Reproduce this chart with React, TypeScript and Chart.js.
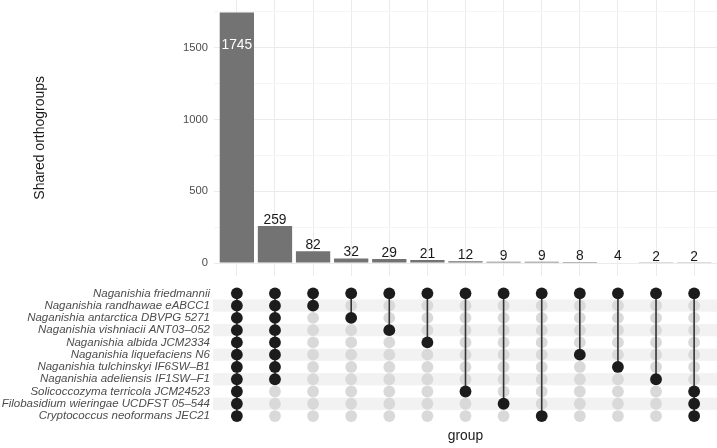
import React, { useEffect, useRef } from "react";
import { Chart, registerables } from "chart.js";

Chart.register(...registerables);

const FONT = "'Liberation Sans', Arial, Helvetica, sans-serif";

// Genomes (matrix rows, top to bottom)
const species = [
  "Naganishia friedmannii",
  "Naganishia randhawae eABCC1",
  "Naganishia antarctica DBVPG 5271",
  "Naganishia vishniacii ANT03–052",
  "Naganishia albida JCM2334",
  "Naganishia liquefaciens N6",
  "Naganishia tulchinskyi IF6SW–B1",
  "Naganishia adeliensis IF1SW–F1",
  "Solicoccozyma terricola JCM24523",
  "Filobasidium wieringae UCDFST 05–544",
  "Cryptococcus neoformans JEC21",
];

// Number of shared orthogroups in each intersection
const intersectionSizes = [1745, 259, 82, 32, 29, 21, 12, 9, 9, 8, 4, 2, 2];

// Row indices (into species) that make up each intersection
const intersectionMembers = [
  [0, 1, 2, 3, 4, 5, 6, 7, 8, 9, 10],
  [0, 1, 2, 3, 4, 5, 6, 7],
  [0, 1],
  [0, 2],
  [0, 3],
  [0, 4],
  [0, 8],
  [0, 9],
  [0, 10],
  [0, 5],
  [0, 6],
  [0, 7],
  [0, 8, 9, 10],
];

const majorTicks = [0, 500, 1000, 1500];
const minorTicks = [250, 750, 1250, 1750];

const X_MIN = -0.6;
const X_MAX = intersectionSizes.length - 1 + 0.6;
const PANEL_LEFT = 214;
const TITLE_PAD = 27.6;

// Drop the label-overhang padding Chart.js reserves around each axis
const noScalePadding = (s: any) => {
  s.paddingTop = 0;
  s.paddingBottom = 0;
  s.paddingLeft = 0;
  s.paddingRight = 0;
};

const barLabels = {
  id: "barLabels",
  afterDatasetsDraw(chart: any) {
    const { ctx, chartArea } = chart;
    const meta = chart.getDatasetMeta(0);
    ctx.save();
    ctx.font = `13.8px ${FONT}`;
    ctx.textAlign = "center";
    ctx.textBaseline = "alphabetic";
    meta.data.forEach((bar: any, i: number) => {
      const label = String(intersectionSizes[i]);
      if (bar.y - 18 < chartArea.top) {
        ctx.fillStyle = "#FFFFFF";
        ctx.fillText(label, bar.x, bar.y + 36);
      } else {
        ctx.fillStyle = "#1A1A1A";
        ctx.fillText(label, bar.x, bar.y - 2);
      }
    });
    ctx.restore();
  },
};

const stripes = {
  id: "stripes",
  beforeDatasetsDraw(chart: any) {
    const { ctx, chartArea, scales } = chart;
    const y = scales.y;
    ctx.save();
    ctx.fillStyle = "#F2F2F2";
    species.forEach((_, r) => {
      if (r % 2 === 1) {
        const a = y.getPixelForValue(r - 0.5);
        const b = y.getPixelForValue(r + 0.5);
        ctx.fillRect(
          chartArea.left - 1,
          Math.min(a, b),
          chartArea.right - chartArea.left + 1,
          Math.abs(b - a)
        );
      }
    });
    ctx.restore();
  },
};

export default function App() {
  const barRef = useRef<HTMLCanvasElement>(null);
  const matRef = useRef<HTMLCanvasElement>(null);

  useEffect(() => {
    const xIdx = intersectionSizes.map((_, i) => i);

    const barChart = new Chart(barRef.current as HTMLCanvasElement, {
      type: "bar",
      data: {
        datasets: [
          {
            data: intersectionSizes.map((v, i) => ({ x: i, y: v })),
            backgroundColor: "#737373",
            barPercentage: 0.9,
            categoryPercentage: 1.0,
          } as any,
        ],
      },
      options: {
        animation: false,
        responsive: false,
        devicePixelRatio: 1,
        layout: {
          autoPadding: false,
          padding: { left: TITLE_PAD, right: 0, top: 0, bottom: 4.4 },
        },
        plugins: { legend: { display: false }, tooltip: { enabled: false } },
        scales: {
          x: {
            type: "linear",
            min: X_MIN,
            max: X_MAX,
            bounds: "data",
            offset: false,
            afterBuildTicks: (s: any) => {
              s.ticks = xIdx.map((v) => ({ value: v }));
            },
            ticks: { display: false },
            grid: { color: "#EBEBEB", drawTicks: false, offset: false },
            border: { display: false },
            afterFit: (s: any) => {
              s.height = 0;
              noScalePadding(s);
            },
          },
          y: {
            type: "linear",
            min: -87.25,
            max: 1832.25,
            bounds: "data",
            afterBuildTicks: (s: any) => {
              s.ticks = [...majorTicks, ...minorTicks]
                .sort((a, b) => a - b)
                .map((v) => ({ value: v }));
            },
            ticks: {
              autoSkip: false,
              padding: 6,
              color: "#4D4D4D",
              font: { size: 11.2, family: FONT },
              callback: (v: any) => (majorTicks.includes(v) ? String(v) : ""),
            },
            grid: {
              drawTicks: false,
              color: (ctx: any) =>
                ctx.tick && majorTicks.includes(ctx.tick.value) ? "#EBEBEB" : "#F5F5F5",
            },
            border: { display: false },
            title: {
              display: true,
              text: "Shared orthogroups",
              color: "#1A1A1A",
              font: { size: 14, family: FONT },
              padding: { top: 4, bottom: 4 },
            },
            afterFit: (s: any) => {
              s.width = PANEL_LEFT - TITLE_PAD;
              noScalePadding(s);
            },
          },
        },
      } as any,
      plugins: [barLabels],
    });

    const filledPts: { x: number; y: number }[] = [];
    const emptyPts: { x: number; y: number }[] = [];
    intersectionMembers.forEach((members, i) => {
      species.forEach((_, r) => {
        (members.includes(r) ? filledPts : emptyPts).push({ x: i, y: r });
      });
    });

    const connectors = intersectionMembers.map((members, i) => ({
      data: [
        { x: i, y: Math.min(...members) },
        { x: i, y: Math.max(...members) },
      ],
      showLine: true,
      borderColor: "#333333",
      borderWidth: 1.6,
      pointRadius: 0,
      order: 1,
    }));

    const matrixChart = new Chart(matRef.current as HTMLCanvasElement, {
      type: "scatter",
      data: {
        datasets: [
          {
            data: filledPts,
            pointRadius: 5.9,
            pointBackgroundColor: "#1C1C1C",
            pointBorderWidth: 0,
            order: 0,
          },
          ...connectors,
          {
            data: emptyPts,
            pointRadius: 5.9,
            pointBackgroundColor: "#D9D9D9",
            pointBorderWidth: 0,
            order: 2,
          },
        ] as any,
      },
      options: {
        animation: false,
        responsive: false,
        devicePixelRatio: 1,
        layout: {
          autoPadding: false,
          padding: { left: 0, right: 0, top: 6, bottom: 0 },
        },
        plugins: { legend: { display: false }, tooltip: { enabled: false } },
        scales: {
          x: {
            type: "linear",
            min: X_MIN,
            max: X_MAX,
            bounds: "data",
            ticks: { display: false },
            grid: { display: false, drawTicks: false },
            border: { display: false },
            title: {
              display: true,
              text: "group",
              color: "#1A1A1A",
              font: { size: 13.8, family: FONT },
              padding: { top: 4, bottom: 4 },
            },
            afterFit: (s: any) => {
              s.height = 24.6;
              noScalePadding(s);
            },
          },
          y: {
            type: "linear",
            reverse: true,
            min: -0.6,
            max: species.length - 1 + 0.6,
            bounds: "data",
            afterBuildTicks: (s: any) => {
              s.ticks = species.map((_, i) => ({ value: i }));
            },
            ticks: {
              autoSkip: false,
              padding: 4,
              color: "#4D4D4D",
              font: { size: 11.5, style: "italic", family: FONT },
              callback: (v: any) => species[v] ?? "",
            },
            grid: { display: false, drawTicks: false },
            border: { display: false },
            afterFit: (s: any) => {
              s.width = PANEL_LEFT;
              noScalePadding(s);
            },
          },
        },
      } as any,
      plugins: [stripes],
    });

    return () => {
      barChart.destroy();
      matrixChart.destroy();
    };
  }, []);

  return (
    <div
      style={{
        position: "fixed",
        left: 0,
        top: 0,
        width: 717,
        height: 448,
        background: "#FFFFFF",
      }}
    >
      <canvas
        ref={barRef}
        width={717}
        height={280}
        style={{ position: "absolute", left: 0, top: 0 }}
      />
      <canvas
        ref={matRef}
        width={717}
        height={168}
        style={{ position: "absolute", left: 0, top: 280 }}
      />
    </div>
  );
}
